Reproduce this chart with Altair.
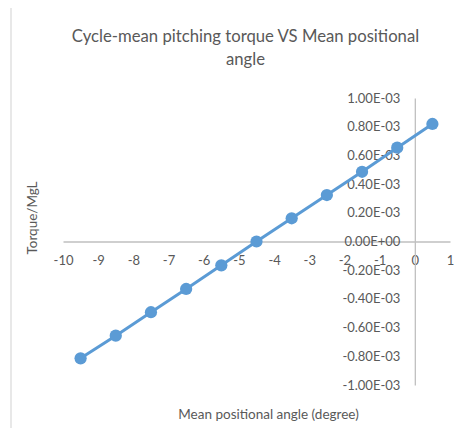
import altair as alt
import pandas as pd

angles = [-9.5, -8.5, -7.5, -6.5, -5.5, -4.5, -3.5, -2.5, -1.5, -0.5, 0.5]
torque = [-0.814e-3, -0.656e-3, -0.493e-3, -0.331e-3, -0.166e-3, 0.0,
          0.162e-3, 0.324e-3, 0.486e-3, 0.654e-3, 0.819e-3]
x_ticks = [-10, -9, -8, -7, -6, -5, -4, -3, -2, -1, 0, 1]
y_ticks = [-0.001, -0.0008, -0.0006, -0.0004, -0.0002, 0.0,
           0.0002, 0.0004, 0.0006, 0.0008, 0.001]

df = pd.DataFrame({"angle": angles, "torque": torque})

W, H = 387, 287
FONT = "Lato"
GREY = "#595959"
AXIS = "#BFBFBF"
BLUE = "#5B9BD5"

x_scale = alt.Scale(domain=[-10, 1], nice=False, zero=False)
y_scale = alt.Scale(domain=[-0.001, 0.001], nice=False)

x_axis = alt.Axis(
    values=x_ticks, grid=False, ticks=False, tickSize=0,
    offset=-H / 2, domainColor=AXIS, domainWidth=1.3,
    labelExpr="(datum.value < 0 ? '-' : '') + abs(datum.value)",
    labelFont=FONT, labelFontSize=13, labelColor=GREY, labelPadding=19,
    labelBaseline="middle",
    labelFlush=False, labelOverlap=False, labelBound=False,
    title="Mean positional angle (degree)", titleFont=FONT, titleFontSize=13.5,
    titleFontWeight="normal", titleColor=GREY,
    titleX=205, titleY=173, titleBaseline="middle",
)
y_axis = alt.Axis(
    values=y_ticks, grid=False, ticks=False, tickSize=0,
    offset=-W * 10 / 11, domainColor=AXIS, domainWidth=1.3,
    labelExpr="datum.value == 0 ? '0.00E+00' : (datum.value < 0 ? '-' : '') + format(abs(datum.value) * 1000, '.2f') + 'E-03'",
    labelFont=FONT, labelFontSize=13, labelColor=GREY, labelPadding=15,
    labelFlush=False, labelOverlap=False, labelBound=False,
    title="Torque/MgL", titleFont=FONT, titleFontSize=13.5,
    titleFontWeight="normal", titleColor=GREY,
    titleX=-382, titleY=119.5, titleBaseline="middle", titleAngle=-90,
)

border = alt.Chart(pd.DataFrame({"a": [0]})).mark_rect(
    fillOpacity=0, stroke="#D9D9D9", strokeWidth=1.2
).encode(
    x=alt.value(-52), x2=alt.value(W + 30),
    y=alt.value(-92), y2=alt.value(H + 60),
)

line = alt.Chart(df).mark_line(color=BLUE, strokeWidth=3).encode(
    x=alt.X("angle:Q", scale=x_scale, axis=x_axis),
    y=alt.Y("torque:Q", scale=y_scale, axis=y_axis),
)
pts = alt.Chart(df).mark_circle(color=BLUE, opacity=1, size=150).encode(
    x=alt.X("angle:Q", scale=x_scale, axis=x_axis),
    y=alt.Y("torque:Q", scale=y_scale, axis=y_axis),
)

chart = alt.layer(border, line, pts).properties(
    width=W, height=H,
    autosize=alt.AutoSizeParams(type="none"),
    padding={"left": 55, "top": 90, "right": 12, "bottom": 43},
    title=alt.TitleParams(
        ["Cycle-mean pitching torque VS Mean positional", "angle"],
        font=FONT, fontSize=16.7, fontWeight="normal", color=GREY,
        anchor="middle", dx=-11, dy=63, offset=0, lineHeight=23,
    ),
).configure_view(stroke=None)

chart.save("out.html", embed_options={"renderer": "svg", "actions": False})
